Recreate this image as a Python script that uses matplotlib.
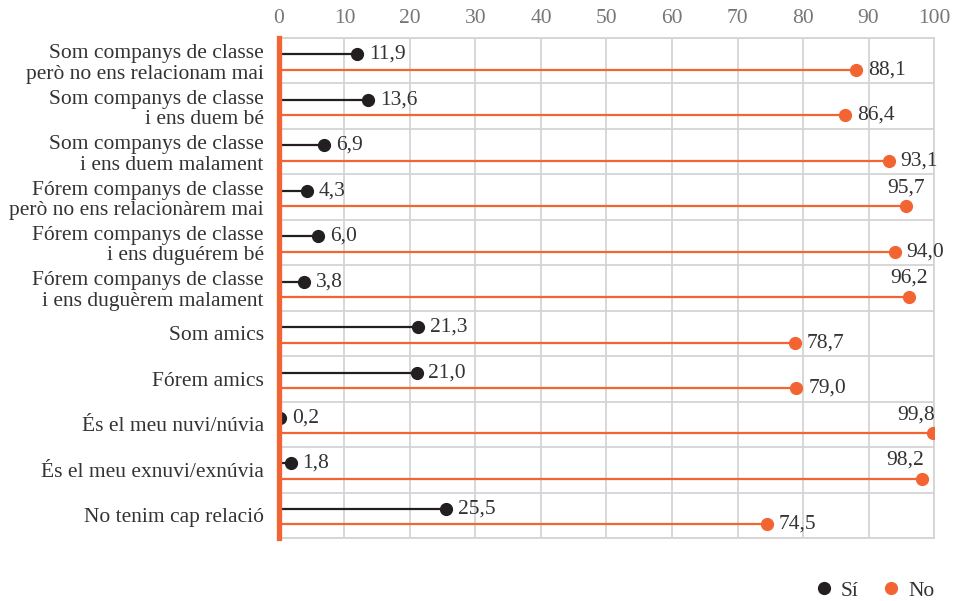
import matplotlib.pyplot as plt
import numpy as np

# Data
categories = [
    'Som companys de classe\nperò no ens relacionam mai',
    'Som companys de classe\ni ens duem bé',
    'Som companys de classe\ni ens duem malament',
    'Fórem companys de classe\nperò no ens relacionàrem mai',
    'Fórem companys de classe\ni ens duguérem bé',
    'Fórem companys de classe\ni ens duguèrem malament',
    'Som amics',
    'Fórem amics',
    'És el meu nuvi/núvia',
    'És el meu exnuvi/exnúvia',
    'No tenim cap relació',
]
si_values = [11.9, 13.6, 6.9, 4.3, 6.0, 3.8, 21.3, 21.0, 0.2, 1.8, 25.5]
no_values = [88.1, 86.4, 93.1, 95.7, 94.0, 96.2, 78.7, 79.0, 99.8, 98.2, 74.5]
series_names = ['Sí', 'No']

black = '#231f20'
orange = '#f26532'
text_color = '#333333'

plt.rcParams['font.family'] = ['Liberation Serif', 'DejaVu Serif']

fig = plt.figure(figsize=(9.57, 6.01), dpi=100)
ax = fig.add_axes([0.2915, 0.1048, 0.6845, 0.832])

n = len(categories)
rows = np.arange(n)
y_si = rows + 0.36
y_no = rows + 0.70

# lollipop lines and dots
ax.hlines(y_si, 0, si_values, color=black, lw=1.6, zorder=3)
ax.hlines(y_no, 0, no_values, color=orange, lw=1.6, zorder=3)
ax.plot(si_values, y_si, 'o', color=black, ms=8.5, zorder=4, label=series_names[0])
ax.plot(no_values, y_no, 'o', color=orange, ms=8.5, zorder=4, label=series_names[1])

def fmt(v):
    return f'{v:.1f}'.replace('.', ',')

# value labels
for v, y in zip(si_values, y_si):
    ax.text(v + 1.8, y, fmt(v), va='center', ha='left', fontsize=15.5, color=text_color, zorder=5)
for v, y in zip(no_values, y_no):
    if v > 97:
        ax.text(v + 0.3, y - 0.2, fmt(v), va='bottom', ha='right', fontsize=15.5, color=text_color, zorder=5)
    elif v > 95:
        ax.text(v, y - 0.2, fmt(v), va='bottom', ha='center', fontsize=15.5, color=text_color, zorder=5)
    else:
        ax.text(v + 1.8, y, fmt(v), va='center', ha='left', fontsize=15.5, color=text_color, zorder=5)

# axes
ax.set_xlim(0, 100)
ax.set_ylim(n, 0)
ax.set_xticks(np.arange(0, 101, 10))
ax.xaxis.tick_top()
ax.tick_params(axis='x', length=0, labelsize=15.5, labelcolor='#777777', pad=7)
ax.set_yticks(rows + 0.5)
ax.set_yticklabels(categories, fontsize=15.5, color=text_color, linespacing=1.1)
ax.tick_params(axis='y', length=0, pad=11)
ax.set_yticks(np.arange(0, n + 1), minor=True)
ax.tick_params(axis='y', which='minor', length=0)

ax.grid(axis='x', color='#d4d4d4', lw=1.3, zorder=0)
ax.grid(axis='y', which='minor', color='#d4d4d4', lw=1.3, zorder=0)
ax.grid(axis='y', which='major', visible=False)

for s in ['top', 'right', 'bottom']:
    ax.spines[s].set_color('#d4d4d4')
    ax.spines[s].set_linewidth(1.3)
ax.spines['left'].set_color(orange)
ax.spines['left'].set_linewidth(3.8)
ax.spines['left'].set_zorder(6)

fig.legend(loc='lower right', bbox_to_anchor=(0.997, -0.032), ncol=2, frameon=False,
           fontsize=15.5, handletextpad=0.3, columnspacing=1.0, handlelength=1.0,
           labelcolor=text_color)

plt.savefig('out.png', dpi=100)
